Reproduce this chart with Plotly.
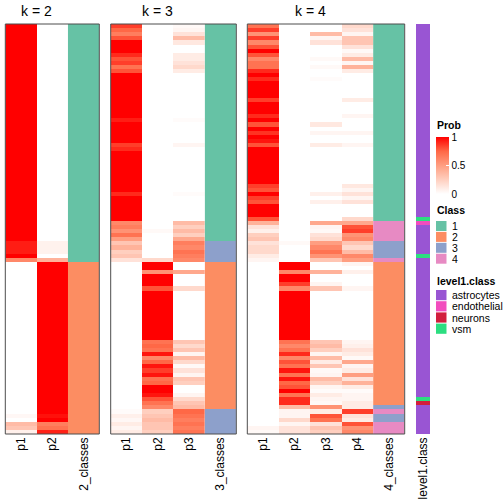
import plotly.graph_objects as go

# ---------------- data (rows top -> bottom) ----------------
k2_p1 = [1]*53 + [0.93]*3 + [1, 0.6] + [0]*37 + [0.04, 0, 0.35, 0.3, 0.08]
k2_p2 = [0]*53 + [0.07]*3 + [0, 0.4] + [1]*37 + [0.96, 1, 0.65, 0.7, 0.92]
k2_cls = [1]*58 + [2]*42

k3_p1 = ([0.85, 0.75, 0.65, 0.8, 1, 1, 1, 0.9, 0.8, 0.85, 0.7, 0.8] + [1]*11 + [0.93] + [1]*5
         + [0.85, 0.9] + [1]*10 + [0.9] + [1]*6
         + [0.6, 0.65, 0.55, 0.7, 0.5, 0.3, 0.4, 0.25, 0.3, 0.15]
         + [0]*36 + [0.02, 0.08, 0.04, 0.1, 0.05, 0.1])
k3_p2 = ([0]*50 + [0.03] + [0]*6 + [0.2]
         + [1, 1, 0.55, 1, 1, 1, 0.8] + [1]*12
         + [0.7, 0.75, 0.7, 0.95, 0.6, 0.75, 0.95, 0.85, 0.95, 0.7, 0.75, 1, 1, 0.95, 0.8, 0.7,
            0.6, 0.25, 0.3, 0.35, 0.3, 0.3, 0.25])
k3_p3 = ([0.03, 0.05, 0.15, 0.35, 0.12, 0, 0, 0.1, 0.1, 0.15, 0.2, 0.1] + [0]*11 + [0.02] + [0]*5
         + [0.05] + [0]*11 + [0.02] + [0]*6
         + [0.35, 0.25, 0.35, 0.25, 0.45, 0.65, 0.6, 0.7, 0.65, 0.6]
         + [0, 0, 0.45, 0, 0, 0, 0.2] + [0]*12
         + [0.3, 0.2, 0.3, 0.05, 0.35, 0.2, 0.03, 0.15, 0.05, 0.3, 0.25, 0, 0, 0.05, 0.2, 0.3,
            0.35, 0.75, 0.7, 0.65, 0.7, 0.65, 0.7])
k3_cls = [1]*53 + [3]*5 + [2]*36 + [3]*6

k4_p1 = ([0.7, 0.85, 0.55, 0.85, 0.6, 0.8, 1, 0.8, 0.6, 0.7, 0.7, 0.9, 1, 0.9] + [1]*4 + [0.85]
         + [1]*3 + [0.9, 1, 0.8, 1, 0.88, 1, 0.95, 0.8] + [1]*9 + [0.85, 0.8, 1, 0.85, 0.8]
         + [1]*3 + [0.8, 0.4, 0.15, 0.08, 0.25, 0.3, 0.15, 0.2, 0.2, 0.1, 0.05]
         + [0]*40 + [0.05, 0.03])
k4_p2 = ([0]*53 + [0.03] + [0]*4
         + [1, 1, 0.6, 1, 1, 0.85, 0.6] + [1]*12
         + [0.7, 0.6, 0.7, 0.9, 0.6, 0.8, 0.7, 0.95, 0.7, 0.95, 0.75, 0.8, 1, 0.7, 0.9, 0.9,
            0.35, 0.05, 0.05, 0.2, 0.05, 0.15, 0.15])
k4_p3 = ([0, 0, 0.35, 0.05, 0.15, 0, 0, 0, 0.03, 0, 0.03, 0, 0, 0.02] + [0]*10
         + [0.12, 0, 0.05, 0, 0, 0.1] + [0]*11 + [0.08, 0, 0.08] + [0]*4
         + [0.45, 0.05, 0.03, 0.15, 0.2, 0.5, 0.6, 0.7, 0.55, 0.3, 0, 0, 0.4, 0, 0, 0.05, 0.3]
         + [0]*12
         + [0.3, 0.35, 0.25, 0.05, 0.35, 0.1, 0.3, 0.03, 0.05, 0.35, 0.25, 0.05, 0.02, 0.1,
            0.05, 0.03, 0.55, 0.1, 0.8, 0.7, 0.15, 0.3, 0.25])
k4_p4 = ([0.2, 0.15, 0.05, 0.3, 0.3, 0.15, 0.03, 0.1, 0.35, 0.05, 0.4, 0.1] + [0]*6 + [0.1]
         + [0]*3 + [0.05] + [0]*3 + [0.05, 0, 0, 0.05] + [0]*9 + [0.12, 0.05, 0.15, 0.05, 0.15]
         + [0]*3
         + [0.2, 0.45, 0.8, 0.85, 0.55, 0.6, 0.3, 0.2, 0.35, 0.6, 0.5, 0.05, 0, 0.08, 0, 0, 0, 0.05]
         + [0]*12
         + [0.05, 0.08, 0.15, 0.1, 0.03, 0.45, 0.05, 0.1, 0.5, 0.15, 0.4, 0.1, 0.02, 0.05, 0.05,
            0.1, 0.1, 0.85, 0.15, 0.1, 0.8, 0.55, 0.6])
k4_cls = [1]*48 + [4]*5 + [3]*4 + [4] + [2]*35 + [3] + [4] + [3]*2 + [4]*3

level1 = (["astrocytes"]*47 + ["vsm", "endothelial"] + ["astrocytes"]*7 + ["vsm"]
          + ["astrocytes"]*34 + ["vsm", "neurons"] + ["astrocytes"]*7)

class_labels = ["1", "2", "3", "4"]
class_colors = ["#66C2A5", "#FC8D62", "#8DA0CB", "#E78AC3"]
level1_labels = ["astrocytes", "endothelial", "neurons", "vsm"]
level1_colors = ["#9955D3", "#F24DBE", "#D21E3D", "#2CDE80"]

prob_scale = [[0, "#FFFFFF"], [0.25, "#FFCFBF"], [0.5, "#FF9E81"], [0.75, "#FF6846"], [1, "#FF0000"]]

FONT = "Liberation Sans, Arial, sans-serif"
W = H = 504


def px(x):
    return x / W


def py(y):
    return 1 - y / H


def discrete_scale(colors):
    n = len(colors)
    out = []
    for i, c in enumerate(colors):
        out.append([i / n, c])
        out.append([(i + 1) / n, c])
    return out


rows = list(range(len(k2_cls)))
fig = go.Figure()

panels = [
    ("x", [k2_p1, k2_p2], k2_cls, ["p1", "p2", "2_classes"], (5.3, 99.3), "k = 2"),
    ("x2", [k3_p1, k3_p2, k3_p3], k3_cls, ["p1", "p2", "p3", "3_classes"], (110.7, 236.3), "k = 3"),
    ("x3", [k4_p1, k4_p2, k4_p3, k4_p4], k4_cls, ["p1", "p2", "p3", "p4", "4_classes"], (247.3, 404.7), "k = 4"),
]

layout_axes = {}
annotations = []
shapes = []
y_top, y_bot = 24, 434

for pi, (xa, probs, cls, labels, (x0, x1), title) in enumerate(panels):
    ncol = len(probs)
    z = [[p[r] for p in probs] for r in rows]
    hm = dict(z=z, x=list(range(ncol)), y=rows, xaxis=xa, yaxis="y",
              colorscale=prob_scale, zmin=0, zmax=1, hoverinfo="skip")
    if pi == 0:
        hm["showscale"] = True
        hm["colorbar"] = dict(x=px(435.5), xanchor="left", y=py(165.5), yanchor="middle",
                              len=57, lenmode="pixels", thickness=13, thicknessmode="pixels",
                              xpad=0, ypad=0, outlinewidth=0,
                              tickvals=[0, 0.5, 1], ticktext=["0", "0.5", "1"],
                              ticks="inside", ticklen=3, tickcolor="white",
                              tickfont=dict(size=10, family=FONT, color="black"))
    else:
        hm["showscale"] = False
    fig.add_trace(go.Heatmap(**hm))
    fig.add_trace(go.Heatmap(z=[[c] for c in cls], x=[ncol], y=rows, xaxis=xa, yaxis="y",
                             colorscale=discrete_scale(class_colors), zmin=0.5, zmax=4.5,
                             showscale=False, hoverinfo="skip"))
    key = "xaxis" if xa == "x" else "xaxis" + xa[1:]
    layout_axes[key] = dict(domain=[px(x0), px(x1)], anchor="y", range=[-0.5, ncol + 0.5],
                            tickvals=list(range(ncol + 1)), ticktext=labels, tickangle=-90,
                            tickfont=dict(size=12, family=FONT, color="black"),
                            showgrid=False, zeroline=False, showline=False, ticks="")
    shapes.append(dict(type="rect", xref="paper", yref="paper", x0=px(x0), x1=px(x1),
                       y0=py(y_bot), y1=py(y_top), line=dict(color="#4D4D4D", width=1)))
    # title centred over probability columns
    cw = (x1 - x0) / (ncol + 1)
    annotations.append(dict(x=px(x0 + cw * ncol / 2), y=py(11), xref="paper", yref="paper",
                            text=title, showarrow=False, xanchor="center", yanchor="middle",
                            font=dict(size=14, family=FONT, color="black")))

# level1 annotation column
lvl_codes = [[level1_labels.index(v) + 1] for v in level1]
fig.add_trace(go.Heatmap(z=lvl_codes, x=[0], y=rows, xaxis="x4", yaxis="y",
                         colorscale=discrete_scale(level1_colors), zmin=0.5, zmax=4.5,
                         showscale=False, hoverinfo="skip"))
layout_axes["xaxis4"] = dict(domain=[px(416), px(430)], anchor="y", range=[-0.5, 0.5],
                             tickvals=[0], ticktext=["level1.class"], tickangle=-90,
                             tickfont=dict(size=12, family=FONT, color="black"),
                             showgrid=False, zeroline=False, showline=False, ticks="")

# legends
title_font = dict(size=10.5, family=FONT, color="black")
lab_font = dict(size=10.5, family=FONT, color="black")
annotations.append(dict(x=px(435), y=py(125), xref="paper", yref="paper", text="<b>Prob</b>",
                        showarrow=False, xanchor="left", yanchor="middle", font=title_font))
annotations.append(dict(x=px(435), y=py(210), xref="paper", yref="paper", text="<b>Class</b>",
                        showarrow=False, xanchor="left", yanchor="middle", font=title_font))
for i, (lab, col) in enumerate(zip(class_labels, class_colors)):
    top = 221 + i * 10.9
    shapes.append(dict(type="rect", xref="paper", yref="paper", x0=px(436), x1=px(446.5),
                       y0=py(top + 10), y1=py(top), fillcolor=col, line=dict(width=0)))
    annotations.append(dict(x=px(449.5), y=py(top + 5), xref="paper", yref="paper", text=lab,
                            showarrow=False, xanchor="left", yanchor="middle", font=lab_font))
annotations.append(dict(x=px(435), y=py(281), xref="paper", yref="paper", text="<b>level1.class</b>",
                        showarrow=False, xanchor="left", yanchor="middle", font=title_font))
for i, (lab, col) in enumerate(zip(level1_labels, level1_colors)):
    top = 290 + i * 11.2
    shapes.append(dict(type="rect", xref="paper", yref="paper", x0=px(436), x1=px(446.5),
                       y0=py(top + 10.2), y1=py(top), fillcolor=col, line=dict(width=0)))
    annotations.append(dict(x=px(449.5), y=py(top + 5.1), xref="paper", yref="paper", text=lab,
                            showarrow=False, xanchor="left", yanchor="middle", font=lab_font))

fig.update_layout(
    width=W, height=H, autosize=False,
    margin=dict(l=0, r=0, t=0, b=0, pad=0),
    paper_bgcolor="white", plot_bgcolor="white",
    yaxis=dict(domain=[py(y_bot), py(y_top)], range=[len(rows) - 0.5, -0.5],
               visible=False, showgrid=False, zeroline=False),
    annotations=annotations, shapes=shapes, showlegend=False,
    **layout_axes,
)

fig.write_html("out.html", config={"displayModeBar": False},
               post_script="document.body.style.margin='0px';")
